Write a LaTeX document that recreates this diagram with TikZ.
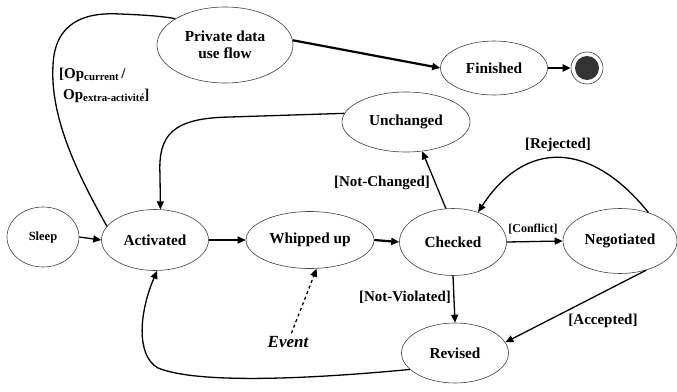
\documentclass[tikz,border=0pt]{standalone}
\usepackage{fontspec}
\setmainfont{Liberation Serif}
\usetikzlibrary{shapes.geometric,arrows.meta}
\newcommand\opsub[1]{\raisebox{-0.35ex}{\fontsize{10.8}{11}\selectfont #1}}
\begin{document}
\begin{tikzpicture}[x=1pt,y=-1pt,
  state/.style={ellipse,draw=black!75,line width=0.6pt,inner sep=0pt,
    font=\fontsize{15.3}{17.5}\selectfont\bfseries,align=center},
  conn/.style={line width=1.3pt,-{Triangle[length=8pt,width=7pt]}},
  thickconn/.style={line width=2.2pt,-{Triangle[length=8pt,width=7pt]}},
  lbl/.style={font=\fontsize{15}{17}\selectfont\bfseries,inner sep=0pt}]
\useasboundingbox (0,0) rectangle (677,391);
% states
\node[state,minimum width=136pt,minimum height=76pt] (pdu) at (225,45) {Private data\\use flow};
\node[state,minimum width=107pt,minimum height=54pt] (fin) at (494,68) {Finished};
\node[circle,draw=black!75,line width=0.6pt,minimum size=32pt,inner sep=0pt] (final) at (587,68) {};
\fill[black!80] (final.center) circle (12pt);
\node[state,minimum width=128pt,minimum height=60pt] (unch) at (406,122) {Unchanged};
\node[state,minimum width=72pt,minimum height=60pt,font=\fontsize{12.5}{14}\selectfont\bfseries] (sleep) at (43,237) {Sleep};
\node[state,minimum width=107pt,minimum height=61pt] (act) at (155,240) {Activated};
\node[state,minimum width=128pt,minimum height=57pt] (wup) at (310,240) {Whipped up};
\node[state,minimum width=107pt,minimum height=67pt] (chk) at (453,242) {Checked};
\node[state,minimum width=114pt,minimum height=65pt] (neg) at (620,241) {Negotiated};
\node[state,minimum width=107pt,minimum height=60pt] (rev) at (455,353) {Revised};
% labels
\node[lbl,anchor=base west] (op1) at (59,78) {[Op\opsub{current}\,/};
\node[lbl,anchor=base west] (op2) at (63,99) {Op\opsub{extra-activité}]};
\node[lbl] (lnc) at (382,183) {[Not-Changed]};
\node[lbl] (lrej) at (558,145) {[Rejected]};
\node[lbl,font=\fontsize{12}{14}\selectfont\bfseries] (lcon) at (533,229) {[Conflict]};
\node[lbl] (lnv) at (405,297) {[Not-Violated]};
\node[lbl] (lacc) at (603,321) {[Accepted]};
\node[font=\fontsize{17}{19}\selectfont\bfseries\itshape,inner sep=3pt] (event) at (288,342) {Event};
% connectors
\draw[line width=1.3pt] (act.164) .. controls (75,170) and (50,115) .. (53,65)
  .. controls (55,22) and (85,12) .. (120,14) .. controls (145,15) and (160,16) .. (pdu.152);
\draw[thickconn] (pdu.4) -- (fin.west);
\draw[thickconn] (fin.east) -- (final.west);
\draw[conn] (unch.172) -- (230,117) .. controls (172,118) and (158,135) .. (160,175) -- (act.80);
\draw[conn] (sleep.east) -- (act.west);
\draw[conn] (act.east) -- (wup.west);
\draw[thickconn] (wup.east) -- (chk.west);
\draw[conn] (chk.east) -- (neg.west);
\draw[conn] (chk.south) -- (rev.north);
\draw[conn] (chk.102) -- (unch.299);
\draw[conn] (neg.45) .. controls (590,140) and (525,140) .. (chk.50);
\draw[conn] (neg.312) -- (rev.12);
\draw[conn] (rev.200) .. controls (320,378) and (200,385) .. (158,368)
  .. controls (135,355) and (140,310) .. (act.274);
\draw[line width=1.3pt,dashed,-{Triangle[length=8pt,width=7pt]}] (event) -- (wup.283);
\end{tikzpicture}
\end{document}
